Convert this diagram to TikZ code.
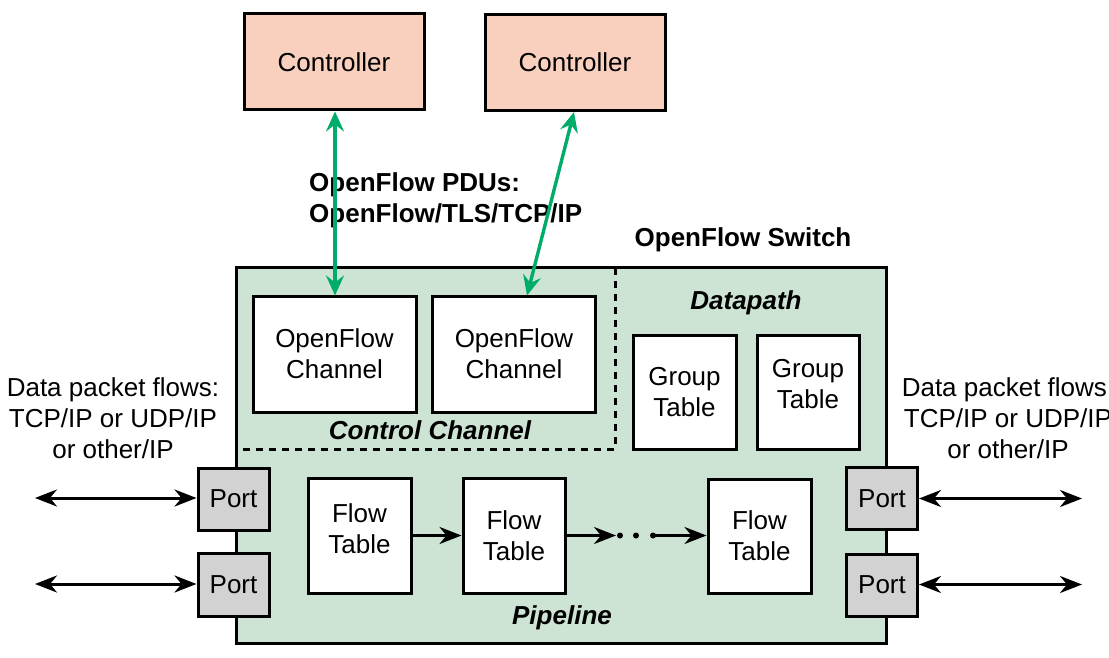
\documentclass[tikz,border=0pt]{standalone}
\usepackage{fontspec}
\setmainfont{Liberation Sans}
\usetikzlibrary{arrows.meta}
\definecolor{ctrlfill}{RGB}{249,207,190}
\definecolor{swfill}{RGB}{205,228,212}
\definecolor{portfill}{RGB}{210,210,210}
\definecolor{ofgreen}{RGB}{0,172,105}
\tikzset{
  txt/.style={font=\fontsize{26}{31}\selectfont, inner sep=0pt, align=center},
  btxt/.style={font=\fontsize{26}{31}\selectfont\bfseries, inner sep=0pt, align=left},
  bitxt/.style={font=\fontsize{26}{31}\selectfont\bfseries\itshape, inner sep=0pt},
  box/.style={draw=black, line width=3pt, fill=white, inner sep=0pt, align=center,
    font=\fontsize{26}{31}\selectfont},
  ctrlbox/.style={box, fill=ctrlfill, minimum width=180pt, minimum height=96pt},
  chanbox/.style={box, minimum width=163pt, minimum height=116pt},
  tabbox/.style={box, minimum width=103pt, minimum height=115pt},
  portbox/.style={box, fill=portfill, minimum width=71pt, minimum height=62pt},
  gtip/.tip={Stealth[length=20pt,width=18pt,inset=7pt]},
  ktip/.tip={Stealth[length=22pt,width=17pt,inset=7pt]},
  greenarrow/.style={draw=ofgreen, line width=3.4pt, arrows={gtip-gtip}},
  blackarrow/.style={draw=black, line width=3pt, arrows={ktip-ktip}},
  flowarrow/.style={draw=black, line width=3pt, arrows={-ktip}},
  sepline/.style={draw=black, line width=3pt, dash pattern=on 7pt off 6pt}
}
\begin{document}
\begin{tikzpicture}[x=1pt,y=-1pt]
\useasboundingbox (0,0) rectangle (1109,658);
\clip (0,0) rectangle (1109,658);
% switch body
\draw[line width=3pt, fill=swfill] (236,267) rectangle (886,643);
\draw[sepline] (615,268) -- (615,449) -- (237,449);
% controllers
\node[ctrlbox] (c1) at (334,62) {Controller};
\node[ctrlbox] (c2) at (575,62.5) {Controller};
% channels
\node[chanbox] (ch1) at (334.5,354) {OpenFlow\\Channel};
\node[chanbox] (ch2) at (514,354) {OpenFlow\\Channel};
% group tables
\node[tabbox, minimum height=114pt] (g1) at (684.5,392) {};
\node[txt] (g1t) at ([yshift=0pt]g1.center) {Group\\Table};
\node[tabbox, minimum width=102pt, minimum height=114pt] (g2) at (808,392) {};
\node[txt] (g2t) at ([yshift=8pt]g2.center) {Group\\Table};
% flow tables
\node[tabbox] (f1) at (359.5,535.5) {};
\node[txt] (f1t) at ([yshift=7pt]f1.center) {Flow\\Table};
\node[tabbox, minimum width=102pt] (f2) at (514,535.5) {};
\node[txt] (f2t) at ([yshift=0pt]f2.center) {Flow\\Table};
\node[tabbox, minimum height=114pt] (f3) at (759.5,536) {};
\node[txt] (f3t) at ([yshift=0pt]f3.center) {Flow\\Table};
% ports
\node[portbox] (pl1) at (233.5,499) {Port};
\node[portbox, minimum height=63pt] (pl2) at (233.5,584.5) {Port};
\node[portbox] (pr1) at (882,498.5) {Port};
\node[portbox] (pr2) at (882,585) {Port};
% labels
\node[btxt, anchor=west] (pdu) at (309,200.5) {OpenFlow PDUs:\\OpenFlow/TLS/TCP/IP};
\node[btxt] (sw) at (743,240) {OpenFlow Switch};
\node[bitxt] (cc) at (430,430) {Control Channel};
\node[bitxt] (dp) at (746,303) {Datapath};
\node[bitxt] (pl) at (562,618) {Pipeline};
\node[txt] (lt) at (113,418) {Data packet flows:\\TCP/IP or UDP/IP\\or other/IP};
\node[txt] (rt) at (1008,418) {Data packet flows:\\TCP/IP or UDP/IP\\or other/IP};
% green arrows
\draw[greenarrow] ([xshift=1pt]c1.south) -- ([yshift=-1pt,xshift=0.5pt]ch1.north);
\draw[greenarrow] ([xshift=-1pt]c2.south) -- ([xshift=13pt,yshift=-1pt]ch2.north);
% external arrows
\coordinate (el1) at (35,498);
\coordinate (el2) at (35,584);
\coordinate (er1) at (1082,498.5);
\coordinate (er2) at (1082,584.5);
\draw[blackarrow] (el1) -- (pl1.west |- el1);
\draw[blackarrow] (el2) -- (pl2.west |- el2);
\draw[blackarrow] (pr1.east |- er1) -- (er1);
\draw[blackarrow] (pr2.east |- er2) -- (er2);
% pipeline arrows
\coordinate (d0) at (616,535.5);
\coordinate (d3) at (653,535.5);
\draw[flowarrow] (f1.east) -- (f2.west);
\draw[flowarrow] (f2.east) -- (d0);
\fill (620,535.5) circle (3pt);
\fill (636,535.5) circle (3pt);
\fill (d3) circle (3pt);
\draw[flowarrow] (d3) -- (f3.west |- d3);
\end{tikzpicture}
\end{document}
